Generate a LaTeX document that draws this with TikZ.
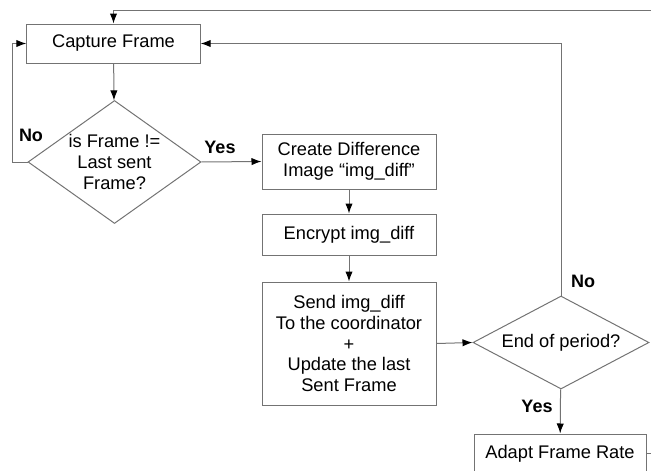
\documentclass[tikz,border=0pt]{standalone}
\usepackage{fontspec}
\setmainfont{Liberation Sans}
\usepackage{tikz}
\usetikzlibrary{shapes.geometric}
\usetikzlibrary{arrows.meta}
\usetikzlibrary{positioning}

\definecolor{lineGray}{RGB}{115,115,115}

\begin{document}
\begin{tikzpicture}[x=0.75pt,y=-0.75pt]
			\tikzset{box/.style = {shape=rectangle,draw=lineGray,line width=0.75pt,
					minimum width=130pt, align=center, inner sep=0pt}}
			\tikzset{decision/.style = {shape=diamond,draw=lineGray,line width=0.75pt,
					align=center, inner sep=0pt}}
			\tikzset{edge/.style = {-{Latex[length=7.5pt,width=5.5pt,black]}, draw=lineGray, line width=0.75pt}}
			\tikzset{plain/.style = {draw=lineGray, line width=0.75pt}}
			\tikzset{lbl/.style = {font=\fontsize{13.5pt}{15pt}\selectfont\bfseries}}
			\tikzset{every node/.append style={font=\fontsize{13.7pt}{15.4pt}\selectfont}}
			
			\useasboundingbox (0,0) rectangle (651,471);
			
			% nodes
			\node[box, minimum height=29.25pt] (capture) at (113.5,43.5) {Capture Frame};
			\node[decision, aspect=1.4, minimum width=129.75pt, minimum height=92.25pt]
				(check) at (114.5,162) {is Frame !=\\Last sent\\Frame?};
			\node[box, minimum width=130.5pt, minimum height=41.25pt] (create) at (349,161.5)
				{Create Difference\\Image “img\_diff”};
			\node[box, minimum width=130.5pt, minimum height=30.75pt] (encrypt) at (349,234.5)
				{Encrypt img\_diff};
			\node[box, minimum width=130.5pt, minimum height=92.25pt] (send) at (349,343.5)
				{Send img\_diff\\To the coordinator\\+\\Update the last\\Sent Frame};
			\node[decision, aspect=1.89, minimum width=132pt, minimum height=69.75pt]
				(period) at (561,342.5) {End of period?};
			\node[box, minimum width=129pt, minimum height=29.25pt] (adapt) at (560,453.5)
				{Adapt Frame Rate};
			
			\coordinate (topR) at (660,10);
			\coordinate (adaptR) at (660,453.5);
			
			% labels
			\node[lbl] (no1) at (31,135) {No};
			\node[lbl] (yes1) at (220,147) {Yes};
			\node[lbl] (no2) at (583,281) {No};
			\node[lbl] (yes2) at (537,406) {Yes};
			
			% edges
			\draw[edge] (topR) -| (capture);
			\draw[edge] (capture) -- (check);
			\draw[edge] (check.west) -- ++(-15,0) |- (capture.west);
			\draw[edge] (check.east) -- (create.west);
			\draw[edge] (create) -- (encrypt);
			\draw[edge] (encrypt) -- (send);
			\draw[edge] (send.east) -- (period.west);
			\draw[edge] (period.north) |- (capture.east);
			\draw[edge] (period) -- (adapt);
			\draw[plain] (adapt.east) -- (adaptR);
			
\end{tikzpicture}
\end{document}
